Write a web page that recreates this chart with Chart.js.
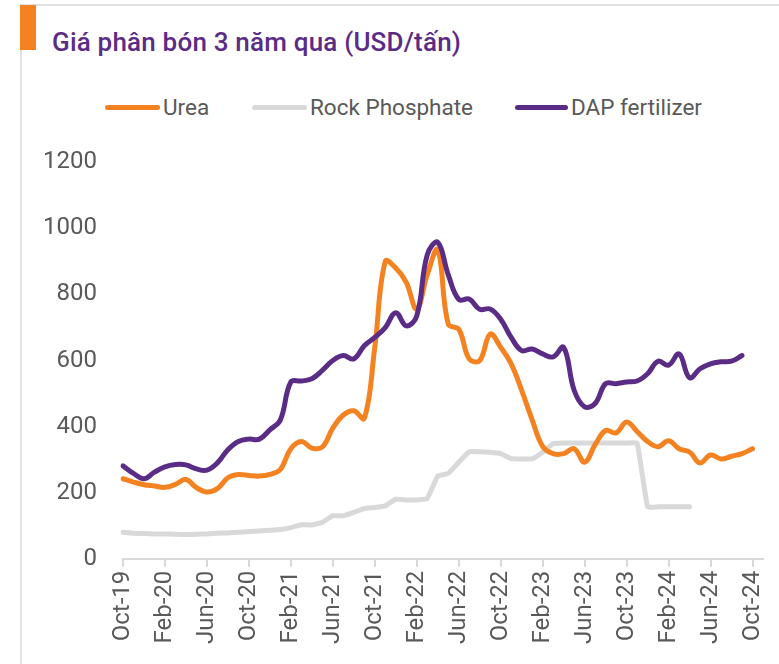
<!DOCTYPE html>
<html>
<head>
<meta charset="utf-8">
<script src="https://cdn.jsdelivr.net/npm/chart.js@4.4.1/dist/chart.umd.min.js"></script>
<style>
  body { margin: 0; width: 779px; height: 664px; background: #fff; overflow: hidden; position: relative; font-family: Roboto, "Noto Sans", sans-serif; }
  .frame { position: absolute; left: 20px; top: 4px; right: 0; bottom: 0; border-left: 2px solid #e2e2e2; border-top: 2px solid #e2e2e2; }
  .accent { position: absolute; left: 20px; top: 5px; width: 16px; height: 45px; background: #F58220; }
  .title { position: absolute; left: 52px; top: 27px; margin: 0; font-size: 26px; font-weight: 500; color: #5B2C86; white-space: nowrap; letter-spacing: 0.2px; }
  .legend { position: absolute; top: 94px; left: 0; height: 26px; font-size: 22.5px; color: #595959; }
  .legend span { position: absolute; white-space: nowrap; }
  .legend i { position: absolute; top: 11px; height: 5px; border-radius: 3px; }
  .wrap { position: absolute; left: 0; top: 122px; width: 779px; height: 542px; }
</style>
</head>
<body>
<div class="frame"></div>
<div class="accent"></div>
<h1 class="title">Giá phân bón 3 năm qua (USD/tấn)</h1>
<div class="legend" id="legend"></div>
<div class="wrap"><canvas id="priceChart"></canvas></div>

<script>
// monthly, Oct-19 .. Nov-24 (last one only pads the axis)
var months = ["Oct-19","Nov-19","Dec-19","Jan-20","Feb-20","Mar-20","Apr-20","May-20","Jun-20","Jul-20","Aug-20","Sep-20",
  "Oct-20","Nov-20","Dec-20","Jan-21","Feb-21","Mar-21","Apr-21","May-21","Jun-21","Jul-21","Aug-21","Sep-21",
  "Oct-21","Nov-21","Dec-21","Jan-22","Feb-22","Mar-22","Apr-22","May-22","Jun-22","Jul-22","Aug-22","Sep-22",
  "Oct-22","Nov-22","Dec-22","Jan-23","Feb-23","Mar-23","Apr-23","May-23","Jun-23","Jul-23","Aug-23","Sep-23",
  "Oct-23","Nov-23","Dec-23","Jan-24","Feb-24","Mar-24","Apr-24","May-24","Jun-24","Jul-24","Aug-24","Sep-24",
  "Oct-24","Nov-24"];
var shownLabels = ["Oct-19","Feb-20","Jun-20","Oct-20","Feb-21","Jun-21","Oct-21","Feb-22","Jun-22","Oct-22","Feb-23","Jun-23","Oct-23","Feb-24","Jun-24","Oct-24"];

var urea = [242,232,224,220,216,225,240,215,202,212,245,255,
  252,250,255,270,333,355,335,338,395,435,448,425,
  640,900,880,837,756,860,935,710,695,605,600,680,
  640,590,510,420,340,318,318,333,292,345,388,381,
  414,385,355,339,357,333,323,290,314,302,310,318,
  333];
var rockPhosphate = [80,77,76,75,75,74,73,74,75,77,78,80,
  82,84,86,88,94,103,102,110,130,130,140,152,
  155,160,180,178,178,182,250,258,292,324,324,322,
  318,303,302,302,322,348,350,350,350,350,350,350,
  350,350,157,157,157,157,157];
var dap = [281,258,242,262,278,285,284,272,268,290,330,355,
  362,362,390,420,535,538,545,570,600,615,605,645,
  670,700,745,705,735,920,958,860,785,786,755,756,
  725,670,630,635,620,611,640,510,460,470,530,530,
  535,538,560,598,586,620,548,575,590,596,598,615];
var yTicks = [0,200,400,600,800,1000,1200];

var series = [
  { name: "Urea", data: urea, color: "#F58220" },
  { name: "Rock Phosphate", data: rockPhosphate, color: "#D9D9D9" },
  { name: "DAP fertilizer", data: dap, color: "#5B2C86" }
];

// legend
var legendPos = [[105, 163], [252, 310], [515, 571]];
var lg = document.getElementById("legend");
series.forEach(function(s, k) {
  var line = document.createElement("i");
  line.style.left = legendPos[k][0] + "px";
  line.style.width = (legendPos[k][1] - legendPos[k][0] - 3) + "px";
  line.style.background = s.color;
  lg.appendChild(line);
  var t = document.createElement("span");
  t.style.left = legendPos[k][1] + "px";
  t.textContent = s.name;
  lg.appendChild(t);
});

var ctx = document.getElementById("priceChart");
var priceChart = new Chart(ctx, {
  type: "line",
  data: {
    labels: months,
    datasets: [
      { label: "Rock Phosphate", data: rockPhosphate, borderColor: "#D9D9D9", borderWidth: 5, pointRadius: 0, tension: 0.1, order: 2, borderJoinStyle: "round", borderCapStyle: "round" },
      { label: "Urea", data: urea, borderColor: "#F58220", borderWidth: 5, pointRadius: 0, tension: 0.4, order: 1, borderCapStyle: "round" },
      { label: "DAP fertilizer", data: dap, borderColor: "#5B2C86", borderWidth: 5, pointRadius: 0, tension: 0.4, order: 0, borderCapStyle: "round" }
    ]
  },
  options: {
    responsive: true,
    maintainAspectRatio: false,
    animation: false,
    layout: { padding: { left: 17, right: 16, top: 6, bottom: 16 } },
    plugins: { legend: { display: false }, tooltip: { enabled: false } },
    scales: {
      x: {
        afterFit: function(s) { s.paddingRight = 0; },
        ticks: {
          autoSkip: false, maxRotation: 90, minRotation: 90, padding: 4,
          color: "#595959", font: { family: "Roboto", size: 24 },
          callback: function(v, i) {
            var m = months[i];
            return shownLabels.indexOf(m) >= 0 ? m : null;
          }
        },
        grid: { drawOnChartArea: false, tickLength: 8, color: "#d9d9d9", lineWidth: 2 },
        border: { color: "#d9d9d9", width: 2 }
      },
      y: {
        min: 0, max: 1200,
        afterBuildTicks: function(ax) { ax.ticks = yTicks.map(function(v) { return { value: v }; }); },
        ticks: { padding: 26, color: "#595959", font: { family: "Roboto", size: 24 },
          callback: function(v) { return String(v); } },
        grid: { display: false, drawTicks: false },
        border: { display: false }
      }
    }
  }
});
</script>
</body>
</html>
